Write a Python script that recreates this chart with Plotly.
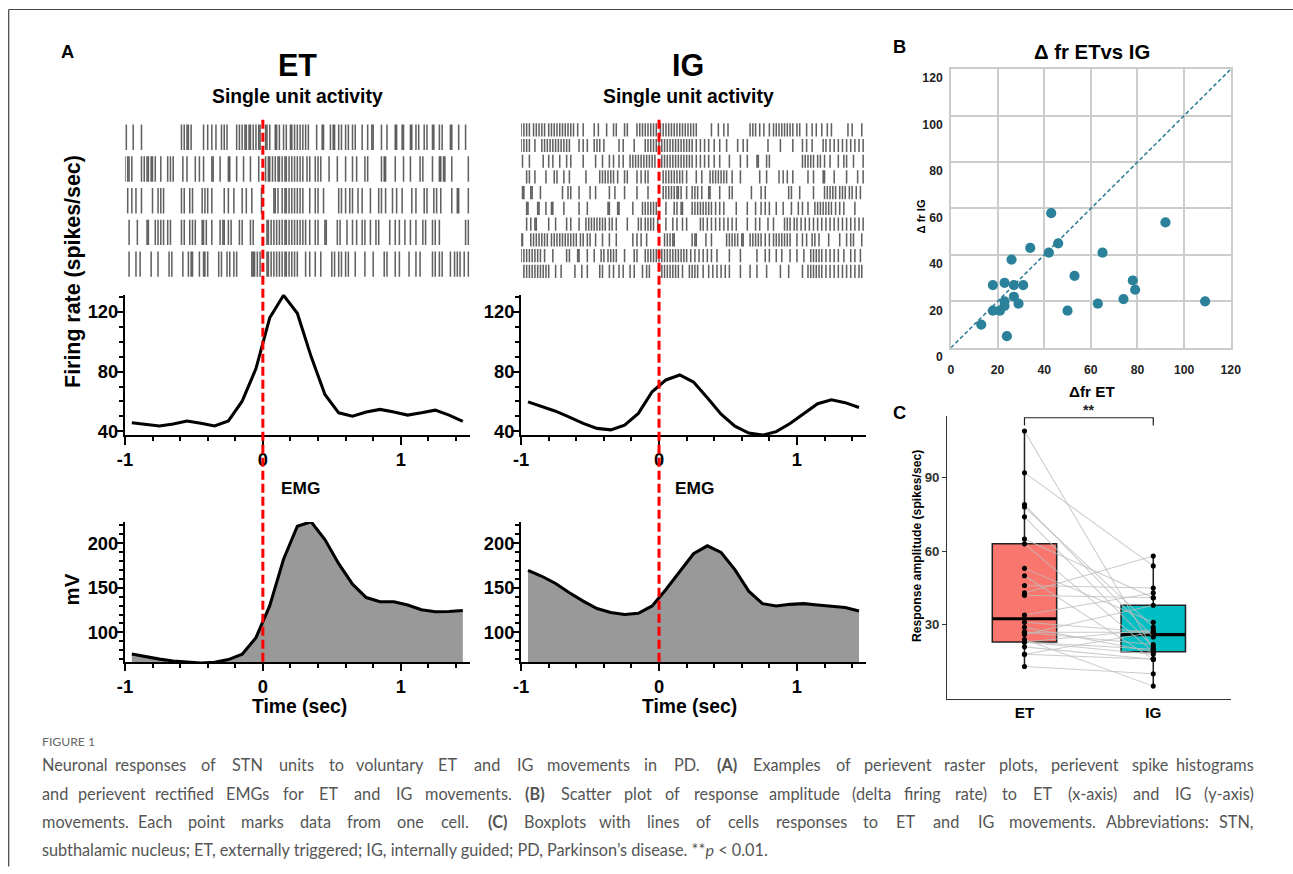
import numpy as np
import plotly.graph_objects as go

# page size; the photographed page is fitted into the frame with a small shrink,
# so positions below are given in target-picture pixels and converted
W, H = 1293, 874
S = 874.0 / 889.0
OX = W * (1 - S) / 2

# ---------------- data ----------------
time_bins = [-0.95, -0.85, -0.75, -0.65, -0.55, -0.45, -0.35, -0.25, -0.15, -0.05,
             0.05, 0.15, 0.25, 0.35, 0.45, 0.55, 0.65, 0.75, 0.85, 0.95,
             1.05, 1.15, 1.25, 1.35, 1.45]
fr_et = [45.8, 44.5, 43.6, 45.0, 46.9, 45.5, 43.6, 47.0, 60.2, 82.0, 116.0, 131.0, 119.0,
         90.0, 64.7, 52.4, 50.2, 52.9, 54.7, 52.9, 50.9, 52.4, 54.2, 50.9, 46.7]
fr_ig = [59.7, 56.5, 53.5, 49.5, 45.3, 42.0, 41.0, 44.2, 52.0, 66.5, 74.4, 77.7, 73.0,
         62.5, 51.5, 43.5, 38.9, 37.5, 39.8, 45.3, 52.0, 58.5, 61.1, 59.2, 56.0]
emg_et = [75.7, 72.5, 70.0, 68.0, 66.8, 65.5, 66.5, 69.5, 75.5, 94.0, 130.0, 182.0, 219.0,
          224.0, 204.0, 177.0, 154.0, 139.0, 134.3, 134.3, 130.6, 125.3, 123.1, 123.4, 124.6]
emg_ig = [169.6, 162.9, 154.8, 144.4, 135.1, 126.7, 122.2, 120.0, 121.4, 129.6, 148.1, 168.4,
          188.1, 197.0, 189.6, 170.3, 146.2, 132.2, 129.6, 131.4, 132.2, 130.7, 128.9, 127.8, 124.0]

raster_et = [
    [-0.99, -0.94, -0.88, -0.59, -0.57, -0.55, -0.54, -0.52, -0.43, -0.40, -0.37, -0.34, -0.30, -0.28,
     -0.26, -0.19, -0.17, -0.15, -0.13, -0.12, -0.10, -0.09, -0.07, -0.05, -0.03, -0.02, 0.02, 0.03,
     0.05, 0.09, 0.10, 0.12, 0.15, 0.17, 0.20, 0.21, 0.23, 0.25, 0.27, 0.29, 0.31, 0.33, 0.39, 0.43,
     0.44, 0.49, 0.51, 0.52, 0.55, 0.57, 0.60, 0.62, 0.65, 0.67, 0.72, 0.76, 0.79, 0.80, 0.86, 0.90,
     0.96, 0.97, 1.01, 1.02, 1.07, 1.08, 1.11, 1.13, 1.17, 1.19, 1.23, 1.24, 1.28, 1.30, 1.36, 1.37,
     1.42, 1.47],
    [-1.00, -0.98, -0.97, -0.95, -0.88, -0.86, -0.84, -0.83, -0.81, -0.80, -0.78, -0.74, -0.69, -0.67,
     -0.65, -0.58, -0.55, -0.49, -0.46, -0.43, -0.37, -0.36, -0.31, -0.25, -0.24, -0.19, -0.14, -0.09,
     -0.03, 0.02, 0.04, 0.05, 0.07, 0.09, 0.11, 0.12, 0.14, 0.16, 0.17, 0.19, 0.21, 0.23, 0.25, 0.27,
     0.29, 0.32, 0.34, 0.38, 0.40, 0.42, 0.48, 0.54, 0.60, 0.65, 0.68, 0.74, 0.76, 0.86, 0.88, 0.89,
     0.96, 1.02, 1.07, 1.14, 1.16, 1.23, 1.28, 1.29, 1.31, 1.32, 1.37, 1.49],
    [-0.98, -0.95, -0.92, -0.88, -0.80, -0.76, -0.74, -0.72, -0.59, -0.57, -0.53, -0.51, -0.44, -0.42,
     -0.40, -0.37, -0.28, -0.25, -0.21, -0.15, -0.12, -0.08, -0.01, 0.08, 0.09, 0.11, 0.14, 0.16,
     0.17, 0.19, 0.21, 0.23, 0.25, 0.27, 0.29, 0.34, 0.38, 0.40, 0.44, 0.55, 0.57, 0.60, 0.63, 0.65,
     0.69, 0.72, 0.78, 0.84, 0.86, 0.89, 0.94, 0.97, 1.01, 1.08, 1.11, 1.17, 1.19, 1.24, 1.26, 1.29,
     1.37, 1.41, 1.42, 1.49],
    [-0.97, -0.91, -0.84, -0.83, -0.78, -0.76, -0.74, -0.72, -0.69, -0.67, -0.59, -0.57, -0.53, -0.51,
     -0.49, -0.44, -0.43, -0.41, -0.37, -0.31, -0.29, -0.28, -0.25, -0.23, -0.17, -0.15, -0.09, -0.07,
     0.03, 0.04, 0.06, 0.08, 0.10, 0.12, 0.14, 0.16, 0.17, 0.19, 0.21, 0.23, 0.25, 0.27, 0.29, 0.31,
     0.34, 0.38, 0.40, 0.45, 0.46, 0.54, 0.56, 0.61, 0.65, 0.68, 0.72, 0.74, 0.78, 0.82, 0.84, 0.92,
     0.96, 0.99, 1.03, 1.07, 1.11, 1.16, 1.18, 1.23, 1.25, 1.28, 1.47, 1.49],
    [-0.97, -0.92, -0.89, -0.81, -0.76, -0.68, -0.66, -0.58, -0.54, -0.52, -0.51, -0.46, -0.43, -0.42,
     -0.40, -0.32, -0.30, -0.26, -0.24, -0.21, -0.19, -0.08, -0.07, -0.06, -0.04, -0.02, 0.03, 0.04,
     0.06, 0.08, 0.10, 0.12, 0.14, 0.16, 0.17, 0.19, 0.21, 0.23, 0.25, 0.31, 0.34, 0.38, 0.42, 0.50,
     0.52, 0.55, 0.57, 0.60, 0.62, 0.67, 0.74, 0.80, 0.88, 0.90, 0.96, 0.99, 1.06, 1.11, 1.14, 1.23,
     1.25, 1.28, 1.30, 1.36, 1.39, 1.41, 1.43, 1.46, 1.49],
]

raster_ig = [
    [-1.00, -0.98, -0.96, -0.94, -0.91, -0.89, -0.87, -0.85, -0.83, -0.80, -0.78, -0.76, -0.74, -0.72,
     -0.70, -0.68, -0.66, -0.64, -0.62, -0.59, -0.55, -0.47, -0.44, -0.38, -0.33, -0.31, -0.25, -0.23,
     -0.16, -0.14, -0.12, -0.10, -0.08, -0.06, -0.04, -0.02, 0.01, 0.03, 0.05, 0.07, 0.09, 0.11, 0.13,
     0.15, 0.17, 0.19, 0.21, 0.23, 0.25, 0.27, 0.38, 0.43, 0.47, 0.50, 0.66, 0.68, 0.70, 0.73, 0.76,
     0.80, 0.83, 0.85, 0.87, 0.89, 0.91, 0.93, 0.95, 0.97, 1.00, 1.02, 1.07, 1.11, 1.14, 1.18, 1.22,
     1.25, 1.37, 1.40, 1.47],
    [-1.00, -0.98, -0.96, -0.94, -0.90, -0.85, -0.83, -0.81, -0.79, -0.77, -0.75, -0.73, -0.71, -0.69,
     -0.67, -0.65, -0.58, -0.55, -0.52, -0.47, -0.45, -0.43, -0.40, -0.29, -0.26, -0.18, -0.10, -0.08,
     -0.06, -0.04, -0.02, 0.00, 0.02, 0.04, 0.06, 0.08, 0.10, 0.12, 0.14, 0.16, 0.18, 0.20, 0.22, 0.24,
     0.27, 0.30, 0.33, 0.36, 0.40, 0.44, 0.49, 0.57, 0.61, 0.64, 0.79, 0.88, 0.97, 1.04, 1.07, 1.11,
     1.19, 1.21, 1.24, 1.27, 1.30, 1.33, 1.36, 1.39, 1.42, 1.45, 1.48],
    [-0.99, -0.94, -0.84, -0.80, -0.77, -0.72, -0.67, -0.64, -0.55, -0.46, -0.41, -0.36, -0.33, -0.29,
     -0.26, -0.21, -0.19, -0.17, -0.15, -0.13, -0.11, -0.09, -0.07, -0.05, -0.03, 0.02, 0.04, 0.06,
     0.08, 0.10, 0.12, 0.14, 0.16, 0.18, 0.20, 0.22, 0.24, 0.27, 0.30, 0.33, 0.36, 0.40, 0.44, 0.51,
     0.59, 0.64, 0.71, 0.72, 0.78, 0.80, 1.04, 1.06, 1.08, 1.10, 1.12, 1.15, 1.17, 1.20, 1.24, 1.30,
     1.34, 1.36, 1.41, 1.48],
    [-0.96, -0.94, -0.90, -0.82, -0.76, -0.74, -0.69, -0.65, -0.53, -0.43, -0.41, -0.39, -0.37, -0.35,
     -0.33, -0.30, -0.25, -0.23, -0.16, -0.13, -0.10, -0.08, 0.03, 0.05, 0.07, 0.09, 0.11, 0.13, 0.15,
     0.17, 0.20, 0.27, 0.31, 0.37, 0.39, 0.41, 0.43, 0.45, 0.47, 0.49, 0.53, 0.59, 0.73, 0.78, 0.87,
     0.90, 0.93, 0.97, 1.08, 1.12, 1.19, 1.20, 1.27, 1.36, 1.44, 1.48],
    [-0.99, -0.98, -0.93, -0.92, -0.86, -0.70, -0.66, -0.64, -0.58, -0.50, -0.46, -0.36, -0.32, -0.25,
     -0.16, -0.08, 0.03, 0.05, 0.07, 0.09, 0.11, 0.13, 0.14, 0.16, 0.20, 0.24, 0.26, 0.28, 0.31, 0.36,
     0.37, 0.44, 0.51, 0.53, 0.67, 0.74, 0.77, 0.94, 0.96, 1.02, 1.12, 1.20, 1.22, 1.24, 1.26, 1.28,
     1.31, 1.33, 1.35, 1.38, 1.40, 1.43, 1.46],
    [-0.96, -0.95, -0.88, -0.87, -0.82, -0.78, -0.77, -0.69, -0.58, -0.52, -0.37, -0.36, -0.30, -0.29,
     -0.19, -0.12, -0.10, -0.08, -0.06, -0.04, -0.02, 0.05, 0.11, 0.13, 0.16, 0.17, 0.24, 0.26, 0.28,
     0.30, 0.32, 0.34, 0.36, 0.38, 0.41, 0.44, 0.47, 0.56, 0.64, 0.70, 0.74, 0.77, 0.80, 0.85, 0.90,
     0.96, 1.01, 1.04, 1.08, 1.13, 1.15, 1.17, 1.19, 1.21, 1.23, 1.25, 1.28, 1.31, 1.34, 1.42],
    [-0.96, -0.93, -0.90, -0.89, -0.80, -0.75, -0.67, -0.64, -0.58, -0.53, -0.51, -0.49, -0.47, -0.45,
     -0.43, -0.41, -0.39, -0.36, -0.34, -0.31, -0.23, -0.15, -0.13, -0.10, -0.08, -0.06, -0.04, -0.01,
     0.05, 0.10, 0.13, 0.17, 0.20, 0.30, 0.32, 0.35, 0.38, 0.41, 0.44, 0.47, 0.50, 0.53, 0.56, 0.64,
     0.70, 0.73, 0.79, 0.83, 0.91, 0.93, 0.95, 0.98, 1.00, 1.03, 1.06, 1.09, 1.12, 1.15, 1.18, 1.21,
     1.24, 1.27, 1.30, 1.33, 1.36, 1.39, 1.42, 1.45, 1.48],
    [-1.00, -0.99, -0.93, -0.91, -0.89, -0.87, -0.85, -0.83, -0.81, -0.78, -0.76, -0.74, -0.72, -0.70,
     -0.68, -0.66, -0.64, -0.62, -0.60, -0.57, -0.55, -0.52, -0.50, -0.46, -0.41, -0.36, -0.31, -0.19,
     -0.16, -0.13, -0.09, 0.04, 0.06, 0.08, 0.10, 0.11, 0.24, 0.26, 0.27, 0.34, 0.38, 0.49, 0.51, 0.53,
     0.55, 0.57, 0.60, 0.61, 0.66, 0.68, 0.70, 0.72, 0.74, 0.77, 0.80, 0.83, 0.85, 0.87, 0.89, 0.91,
     0.93, 0.95, 1.00, 1.04, 1.07, 1.11, 1.13, 1.16, 1.23, 1.31, 1.36, 1.39, 1.41, 1.47],
    [-1.00, -0.98, -0.96, -0.94, -0.92, -0.90, -0.88, -0.86, -0.83, -0.77, -0.67, -0.65, -0.59, -0.58,
     -0.52, -0.47, -0.42, -0.40, -0.37, -0.35, -0.33, -0.31, -0.25, -0.18, -0.16, -0.10, -0.08, -0.06,
     -0.04, -0.02, 0.00, 0.02, 0.04, 0.06, 0.08, 0.10, 0.12, 0.14, 0.16, 0.18, 0.20, 0.23, 0.26, 0.29,
     0.32, 0.35, 0.38, 0.42, 0.51, 0.59, 0.71, 0.77, 0.80, 0.85, 0.89, 0.95, 1.00, 1.05, 1.10, 1.12,
     1.14, 1.16, 1.18, 1.21, 1.24, 1.27, 1.30, 1.34, 1.39, 1.42, 1.46],
    [-0.98, -0.96, -0.94, -0.92, -0.90, -0.88, -0.86, -0.84, -0.82, -0.80, -0.75, -0.71, -0.61, -0.56,
     -0.52, -0.43, -0.41, -0.36, -0.33, -0.29, -0.26, -0.21, -0.18, -0.12, -0.09, -0.07, 0.02, 0.04,
     0.06, 0.08, 0.10, 0.12, 0.14, 0.17, 0.22, 0.24, 0.26, 0.28, 0.32, 0.36, 0.39, 0.42, 0.45, 0.48,
     0.51, 0.59, 0.66, 0.71, 0.78, 0.88, 0.94, 1.04, 1.08, 1.10, 1.12, 1.14, 1.16, 1.18, 1.21, 1.24,
     1.27, 1.30, 1.33, 1.36, 1.39, 1.42, 1.45, 1.47],
]

delta_et = [13, 18, 18, 21, 23, 23, 23, 24, 26, 27, 27, 29, 31, 34, 42, 43, 46, 50, 53, 63, 65, 74, 78, 79, 92, 109]
delta_ig = [10, 27, 16, 16, 28, 20, 18, 5, 38, 27, 22, 19, 27, 43, 41, 58, 45, 16, 31, 19, 41, 21, 29, 25, 54, 20]

time_ticks = [-1, 0, 1]
time_tick_text = ["-1", "0", "1"]
fr_ticks = [40, 80, 120]
emg_ticks = [100, 150, 200]
delta_ticks = [0, 20, 40, 60, 80, 100, 120]
amp_ticks = [30, 60, 90]
groups = ["ET", "IG"]

caption_justified = [
    "Neuronal responses of STN units to voluntary ET and IG movements in PD. (A) Examples of perievent raster plots, perievent spike histograms",
    "and perievent rectified EMGs for ET and IG movements. (B) Scatter plot of response amplitude (delta firing rate) to ET (x-axis) and IG (y-axis)",
    "movements. Each point marks data from one cell. (C) Boxplots with lines of cells responses to ET and IG movements. Abbreviations: STN,",
]
caption_last = "subthalamic nucleus; ET, externally triggered; IG, internally guided; PD, Parkinson’s disease. **<i>p</i> &lt; 0.01."

# ---------------- helpers (target pixel -> paper) ----------------
def px(x):
    return ((x - OX) / S) / W

def py(y):
    return 1 - (y / S) / H

def xd(a, b):
    return [px(a), px(b)]

def yd(top, bottom):
    return [py(bottom), py(top)]

def k(v):
    return v / S

FAM = "Liberation Sans, Arial, sans-serif"

def bfont(size, color="black"):
    return dict(family=FAM, size=k(size), color=color, weight="bold")

minor_time = [-0.8, -0.6, -0.4, -0.2, 0.2, 0.4, 0.6, 0.8, 1.2, 1.4]

def time_axis(domain):
    return dict(domain=domain, range=[-1.0, 1.5], showgrid=False, zeroline=False,
                showline=True, linecolor="black", linewidth=k(2),
                ticks="outside", ticklen=k(7), tickwidth=k(2), tickcolor="black",
                tickvals=time_ticks, ticktext=time_tick_text, tickfont=bfont(18),
                minor=dict(tickvals=minor_time, ticks="outside", ticklen=k(4),
                           tickwidth=k(1.5), tickcolor="black", showgrid=False),
                fixedrange=True)

def val_axis(domain, rng, tickvals, minor_vals, anchor):
    return dict(domain=domain, range=rng, showgrid=False, zeroline=False,
                showline=True, linecolor="black", linewidth=k(2),
                ticks="outside", ticklen=k(6), tickwidth=k(2), tickcolor="black",
                tickvals=tickvals, ticktext=[str(v) for v in tickvals], tickfont=bfont(18),
                ticklabelstandoff=-5,
                minor=dict(tickvals=minor_vals, ticks="outside", ticklen=k(4),
                           tickwidth=k(1.5), tickcolor="black", showgrid=False),
                anchor=anchor, fixedrange=True)

ET_X = xd(127.5, 471.25)
IG_X = xd(522.5, 866.25)

fig = go.Figure()

# ---------------- rasters ----------------
def raster_trace(rows, half, xa, ya):
    xs, ys = [], []
    for i, row in enumerate(rows):
        r = i + 1
        for t in row:
            xs += [t, t, None]
            ys += [r - half, r + half, None]
    return go.Scatter(x=xs, y=ys, mode="lines", xaxis=xa, yaxis=ya,
                      line=dict(color="rgba(35,35,35,0.72)", width=k(1.5)),
                      hoverinfo="skip", showlegend=False)

fig.add_trace(raster_trace(raster_et, 0.40, "x", "y"))
fig.add_trace(raster_trace(raster_ig, 0.42, "x2", "y2"))

# ---------------- firing rate ----------------
fig.add_trace(go.Scatter(x=time_bins, y=fr_et, mode="lines", xaxis="x3", yaxis="y3",
                         line=dict(color="black", width=k(3)), showlegend=False))
fig.add_trace(go.Scatter(x=time_bins, y=fr_ig, mode="lines", xaxis="x4", yaxis="y4",
                         line=dict(color="black", width=k(3)), showlegend=False))

# ---------------- EMG ----------------
fig.add_trace(go.Scatter(x=time_bins, y=emg_et, mode="lines", xaxis="x5", yaxis="y5",
                         fill="tozeroy", fillcolor="#999999",
                         line=dict(color="black", width=k(3)), showlegend=False))
fig.add_trace(go.Scatter(x=time_bins, y=emg_ig, mode="lines", xaxis="x6", yaxis="y6",
                         fill="tozeroy", fillcolor="#999999",
                         line=dict(color="black", width=k(3)), showlegend=False))

# ---------------- B scatter ----------------
fig.add_trace(go.Scatter(x=delta_et, y=delta_ig, mode="markers", xaxis="x7", yaxis="y7",
                         marker=dict(color="#2a8199", size=k(10)), showlegend=False))

# ---------------- C boxplot ----------------
fig.add_trace(go.Box(y=delta_et, x0=1, width=0.5, fillcolor="#F8766D",
                     line=dict(color="#222222", width=k(1.5)), boxpoints=False, whiskerwidth=0,
                     quartilemethod="linear", xaxis="x8", yaxis="y8", showlegend=False))
fig.add_trace(go.Box(y=delta_ig, x0=2, width=0.5, fillcolor="#00BFC4",
                     line=dict(color="#222222", width=k(1.5)), boxpoints=False, whiskerwidth=0,
                     quartilemethod="linear", xaxis="x8", yaxis="y8", showlegend=False))
for pos, vals in ((1, delta_et), (2, delta_ig)):
    m = float(np.median(vals))
    fig.add_trace(go.Scatter(x=[pos - 0.25, pos + 0.25], y=[m, m], mode="lines",
                             xaxis="x8", yaxis="y8", line=dict(color="black", width=k(3)),
                             showlegend=False, hoverinfo="skip"))
lx, ly = [], []
for a, b in zip(delta_et, delta_ig):
    lx += [1, 2, None]
    ly += [a, b, None]
fig.add_trace(go.Scatter(x=lx, y=ly, mode="lines", xaxis="x8", yaxis="y8",
                         line=dict(color="rgba(190,190,190,0.8)", width=k(1)), showlegend=False,
                         hoverinfo="skip"))
fig.add_trace(go.Scatter(x=[1] * len(delta_et) + [2] * len(delta_ig), y=delta_et + delta_ig,
                         mode="markers", xaxis="x8", yaxis="y8",
                         marker=dict(color="black", size=k(5)), showlegend=False))

# ---------------- layout axes ----------------
layout = dict(width=W, height=H, margin=dict(l=0, r=0, t=0, b=0), autosize=False,
              paper_bgcolor="white", plot_bgcolor="white", showlegend=False)

layout["xaxis"] = dict(domain=ET_X, range=[-1.0, 1.5], visible=False, fixedrange=True)
layout["yaxis"] = dict(domain=yd(121.6, 280.4), range=[5.5, 0.5], visible=False, fixedrange=True)
layout["xaxis2"] = dict(domain=IG_X, range=[-1.0, 1.5], visible=False, fixedrange=True)
layout["yaxis2"] = dict(domain=yd(122.1, 279.6), range=[10.5, 0.5], visible=False, fixedrange=True)

fr_minor = [50, 60, 70, 90, 100, 110, 130]
emg_minor = [70, 80, 90, 110, 120, 130, 140, 160, 170, 180, 190, 210, 220]
layout["xaxis3"] = dict(time_axis(ET_X), anchor="y3")
layout["yaxis3"] = val_axis(yd(295, 436), [37.33, 131.5], fr_ticks, fr_minor, "x3")
layout["xaxis4"] = dict(time_axis(IG_X), anchor="y4")
layout["yaxis4"] = val_axis(yd(295, 436), [37.33, 131.5], fr_ticks, fr_minor, "x4")
layout["xaxis5"] = dict(time_axis(ET_X), anchor="y5")
layout["yaxis5"] = val_axis(yd(522.7, 663.3), [66.4, 223.8], emg_ticks, emg_minor, "x5")
layout["xaxis6"] = dict(time_axis(IG_X), anchor="y6")
layout["yaxis6"] = val_axis(yd(522.7, 663.3), [66.4, 223.8], emg_ticks, emg_minor, "x6")

grid = "#cccccc"
layout["xaxis7"] = dict(domain=xd(951, 1230), range=[0, 120], tickvals=delta_ticks,
                        showgrid=True, gridcolor=grid, gridwidth=k(1.5), zeroline=False,
                        showline=True, linecolor=grid, linewidth=k(1.5), mirror=True,
                        ticks="", tickfont=bfont(12, "#222222"), ticklabelstandoff=10,
                        anchor="y7", fixedrange=True)
layout["yaxis7"] = dict(domain=yd(69.3, 348.3), range=[0, 120], tickvals=delta_ticks,
                        showgrid=True, gridcolor=grid, gridwidth=k(1.5), zeroline=False,
                        showline=True, linecolor=grid, linewidth=k(1.5), mirror=True,
                        ticks="", tickfont=bfont(12, "#222222"), ticklabelshift=9,
                        ticklabelstandoff=4, anchor="x7", fixedrange=True)

layout["xaxis8"] = dict(domain=xd(947.3, 1229.8), range=[0.4, 2.6], tickvals=[1, 2],
                        ticktext=groups, showgrid=False, zeroline=False,
                        showline=True, linecolor="#333333", linewidth=k(1.2), ticks="",
                        tickfont=bfont(15), anchor="y8", fixedrange=True)
layout["yaxis8"] = dict(domain=yd(417, 700), range=[-0.24, 114.95], tickvals=amp_ticks,
                        showgrid=False, zeroline=False, showline=True, linecolor="#333333",
                        linewidth=k(1.2), ticks="outside", ticklen=k(4), tickcolor="#333333",
                        tickwidth=k(1.2), tickfont=bfont(13, "#333333"), anchor="x8",
                        fixedrange=True)

# ---------------- shapes ----------------
shapes = []
shapes.append(dict(type="line", xref="paper", yref="paper", x0=px(11.6), x1=1.01,
                   y0=py(9.5), y1=py(9.5), line=dict(color="#444444", width=k(1.2))))
shapes.append(dict(type="line", xref="paper", yref="paper", x0=px(11.6), x1=px(11.6),
                   y0=py(9.5), y1=-0.01, line=dict(color="#444444", width=k(1.2))))
for xr in ("x3", "x4"):
    shapes.append(dict(type="line", xref=xr, yref="paper", x0=0, x1=0,
                       y0=py(120), y1=py(665),
                       line=dict(color="#ff0000", width=k(3), dash="9px,4px")))
shapes.append(dict(type="line", xref="x7", yref="y7", x0=0, y0=0, x1=120, y1=120,
                   line=dict(color="#2a7d96", width=k(1.5), dash="4px,2.5px")))
shapes.append(dict(type="path", xref="x8", yref="y8",
                   path="M 1,111.2 L 1,114.4 L 2,114.4 L 2,111.2",
                   line=dict(color="#222222", width=k(1.2))))
layout["shapes"] = shapes

# ---------------- annotations ----------------
ann = []
def text(x, y, s, size, angle=0, xanchor="center", color="black", bold=True, fam=FAM):
    f = dict(family=fam, size=k(size), color=color)
    if bold:
        f["weight"] = "bold"
    ann.append(dict(x=px(x), y=py(y), xref="paper", yref="paper", text=s, showarrow=False,
                    font=f, textangle=angle, xanchor=xanchor, yanchor="middle"))

text(70, 52, "A", 18)
text(300, 65, "ET", 30)
text(300, 97, "Single unit activity", 19)
text(689, 65, "IG", 30)
text(689, 97, "Single unit activity", 19)
text(75, 272, "Firing rate (spikes/sec)", 21, angle=-90)
text(75, 590, "mV", 20, angle=-90)
text(303, 489, "EMG", 17)
text(695, 489, "EMG", 17)
text(302, 708, "Time (sec)", 19)
text(690, 708, "Time (sec)", 19)

text(900, 47, "B", 18)
text(1092, 52, "Δ fr ETvs IG", 20)
text(921, 217, "Δ fr IG", 11, angle=-90)
text(1092, 392, "Δfr ET", 15)

text(900, 413, "C", 18)
text(917, 547, "Response amplitude (spikes/sec)", 12, angle=-90)
ann.append(dict(x=1.5, y=114.4, xref="x8", yref="y8", text="**", showarrow=False,
                font=bfont(14, "#222222"), yanchor="bottom", yshift=-2))

# ---- caption (justified lines placed word by word) ----
CAP = "Lato, Open Sans, sans-serif"
cap_color = "#555555"
text(43, 743, "FIGURE 1", 12, xanchor="left", color="#666666", bold=False, fam=CAP)

CW = {' ': 278, '.': 278, ',': 278, ';': 278, ':': 278, '(': 333, ')': 333, '-': 333,
      '’': 222, '*': 389, 'f': 278, 'i': 222, 'j': 222, 'l': 222, 'r': 333, 't': 278,
      'm': 833, 'w': 722, 'c': 500, 'k': 500, 's': 500, 'v': 500, 'x': 500, 'y': 500, 'z': 500,
      'I': 278, 'J': 500, 'L': 556, 'F': 611, 'T': 611, 'Z': 611, 'A': 667, 'B': 667, 'E': 667,
      'K': 667, 'P': 667, 'S': 667, 'V': 667, 'X': 667, 'Y': 667, 'C': 722, 'D': 722, 'H': 722,
      'N': 722, 'R': 722, 'U': 722, 'G': 778, 'O': 778, 'Q': 778, 'M': 833, 'W': 944}

def est_w(word):
    return sum(CW.get(ch, 556) for ch in word)

LEFT, RIGHT = 43, 1255
for yy, line in zip([766, 795, 823], caption_justified):
    words = line.split(" ")
    wpx = [est_w(w) * 16 * 0.9 / 1000.0 for w in words]
    gap = (RIGHT - LEFT - sum(wpx)) / (len(words) - 1)
    xcur = LEFT
    for i, (wd, wp) in enumerate(zip(words, wpx)):
        label = f"<b>{wd}</b>" if wd in ("(A)", "(B)", "(C)") else wd
        if i == 0:
            text(LEFT, yy, label, 16, xanchor="left", color=cap_color, bold=False, fam=CAP)
        elif i == len(words) - 1:
            text(RIGHT, yy, label, 16, xanchor="right", color=cap_color, bold=False, fam=CAP)
        else:
            text(xcur + wp / 2, yy, label, 16, xanchor="center", color=cap_color, bold=False, fam=CAP)
        xcur += wp + gap
text(LEFT, 851, caption_last, 16, xanchor="left", color=cap_color, bold=False, fam=CAP)

layout["annotations"] = ann
fig.update_layout(**layout)
fig.write_html("out.html", config={"displayModeBar": False, "responsive": False},
               post_script="document.body.style.margin='0px';document.body.style.padding='0px';"
                           "document.documentElement.style.overflow='hidden';")
